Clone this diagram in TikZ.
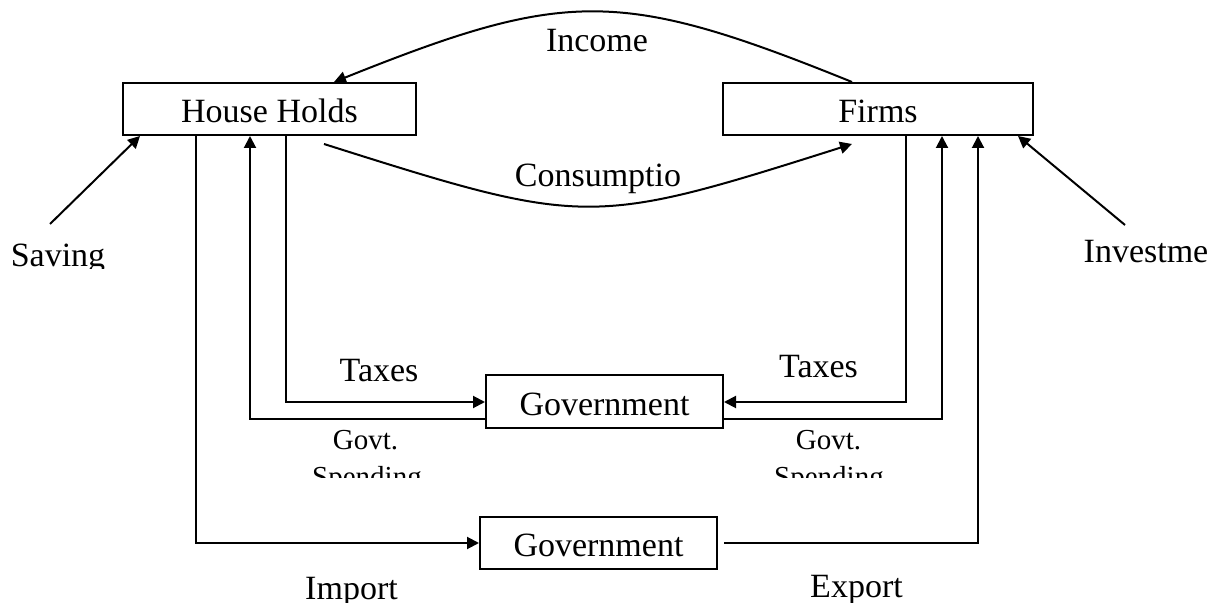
\documentclass[tikz,border=0pt]{standalone}
\usepackage{fontspec}
\setmainfont{Liberation Serif}
\usetikzlibrary{arrows.meta}
\begin{document}
\begin{tikzpicture}[x=0.5pt,y=-0.5pt,
  box/.style={draw,line width=1pt,inner sep=0pt,minimum height=26pt,
    font=\fontsize{17}{20}\selectfont,text height=14pt,text depth=0pt},
  lbl/.style={font=\fontsize{17}{20}\selectfont,anchor=base,inner sep=0pt},
  slbl/.style={font=\fontsize{14.5}{17}\selectfont,anchor=base,inner sep=0pt},
  flow/.style={line width=1pt},
  arr/.style={flow,-{Triangle[length=6pt,width=6pt]}}
]
\useasboundingbox (0,0) rectangle (1210,603);
% boxes
\node[box,minimum width=146.5pt] (hh) at (269.5,109) {House Holds};
\node[box,minimum width=155pt] (firms) at (878,109) {Firms};
\node[box,minimum width=118.5pt,minimum height=26.5pt] (gov1) at (604.5,401.5) {Government};
\node[box,minimum width=118.5pt] (gov2) at (598.5,543) {Government};
% bend coordinates
\coordinate (sv) at (50,224);
\coordinate (iv) at (1125,225);
\coordinate (l1) at (196,543);
\coordinate (l2) at (250,419);
\coordinate (l3) at (286,402);
\coordinate (r1) at (906,402);
\coordinate (r2) at (942,419);
\coordinate (r3) at (978,543);
% income and consumption
\draw[arr] ([xshift=-13pt]firms.north) .. controls (620,-12) and (566,-11) .. ([xshift=32.25pt]hh.north);
\draw[arr] ([xshift=27.25pt,yshift=-4pt]hh.south) .. controls (586,227) and (590,227) .. ([xshift=-13pt,yshift=-4pt]firms.south);
% saving and investment
\draw[arr] (sv) -- ([xshift=9pt]hh.south west);
\draw[arr] (iv) -- ([xshift=-8pt]firms.south east);
% household side
\draw[arr] (hh.south -| l1) |- (gov2.west);
\draw[arr] (hh.south -| l3) |- (gov1.west |- l3);
\draw[arr] (gov1.west |- l2) -| (hh.south -| l2);
% firms side
\draw[arr] (firms.south -| r1) |- (gov1.east |- r1);
\draw[arr] (gov1.east |- r2) -| (firms.south -| r2);
\draw[arr] ([xshift=3pt]gov2.east) -| (firms.south -| r3);
% labels
\node[lbl] (income) at (597,52) {Income};
\node[lbl] (cons) at (598,187) {Consumptio};
\begin{scope}
  \clip (0,200) rectangle (200,268.5);
  \node[lbl] (saving) at (58,267) {Saving};
\end{scope}
\node[lbl] (invest) at (1146,263) {Investme};
\node[lbl] (tax1) at (379,382) {Taxes};
\node[lbl] (tax2) at (818.5,378) {Taxes};
\node[slbl] (gs1a) at (365.5,450) {Govt.};
\node[slbl] (gs2a) at (828.5,450) {Govt.};
\begin{scope}
  \clip (250,455) rectangle (480,478);
  \node[slbl] (gs1b) at (367,487) {Spending};
\end{scope}
\begin{scope}
  \clip (730,455) rectangle (900,478);
  \node[slbl] (gs2b) at (829,487) {Spending};
\end{scope}
\node[lbl] (imp) at (351.5,600) {Import};
\node[lbl] (exp) at (856.5,598) {Export};
\end{tikzpicture}
\end{document}
